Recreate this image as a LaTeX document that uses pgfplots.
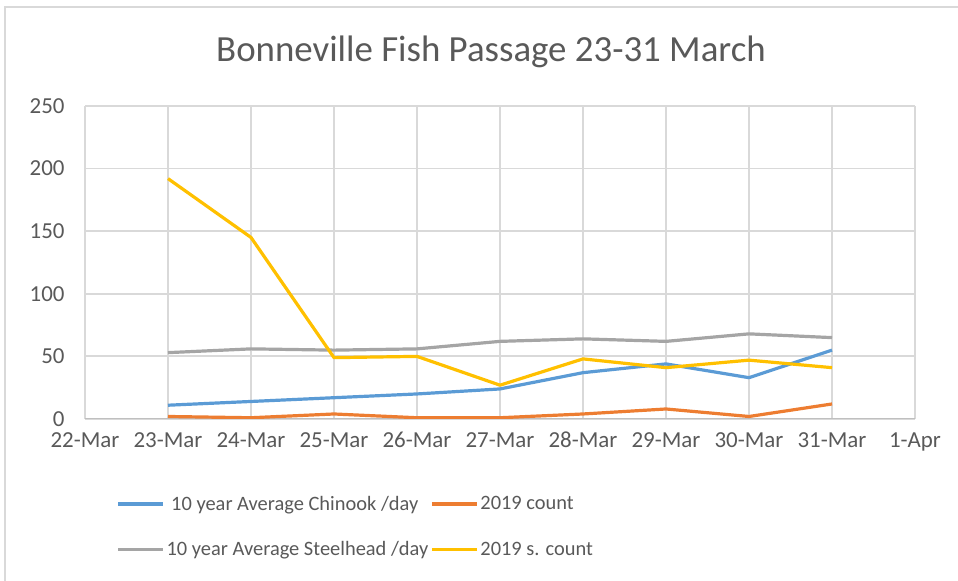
\documentclass[border=0pt]{standalone}
\usepackage{fontspec}
\setmainfont{Carlito}
\usepackage{pgfplots}
\pgfplotsset{compat=1.18}
\definecolor{cblue}{HTML}{5B9BD5}
\definecolor{corange}{HTML}{ED7D31}
\definecolor{cgray}{HTML}{A5A5A5}
\definecolor{cyellow}{HTML}{FFC000}
\definecolor{gridc}{HTML}{D9D9D9}
\definecolor{axc}{HTML}{BFBFBF}
\definecolor{txt}{HTML}{595959}
\begin{document}
\begin{tikzpicture}[x=1bp,y=1bp]
\path[use as bounding box] (0,0) rectangle (958,581);
\draw[color=gridc, line width=1.5bp] (5,0) -- (5,574) -- (958,574);
\node[text=txt, font=\fontsize{37}{44}\selectfont] at (491,529) {Bonneville Fish Passage 23-31 March};
\begin{axis}[
  at={(85bp,162bp)}, anchor=south west,
  scale only axis, width=830bp, height=313bp,
  xmin=0, xmax=10, ymin=0, ymax=250,
  xtick={0,...,10},
  xticklabels={22-Mar,23-Mar,24-Mar,25-Mar,26-Mar,27-Mar,28-Mar,29-Mar,30-Mar,31-Mar,1-Apr},
  ytick={0,50,...,250},
  grid=major,
  grid style={line width=1.8bp, color=gridc},
  axis line style={draw=none},
  major tick length=0pt,
  tick style={draw=none},
  /pgf/number format/assume math mode=true,
  ticklabel style={font=\fontsize{23}{27}\selectfont, text=txt},
  xticklabel style={anchor=base, yshift=-29bp},
  yticklabel style={xshift=-17bp},
  legend columns=2,
  legend cell align=left,
  legend style={at={(0.034,-0.233)}, anchor=north west, draw=none, fill=none,
    font=\fontsize{20.5}{24}\selectfont, text=txt, row sep=26bp,
    /tikz/every even column/.append style={column sep=0bp}},
  legend image code/.code={\draw[#1] (0bp,0bp) -- (45bp,0bp);},
  every axis plot/.append style={line width=3.2bp, no markers, line join=round},
]
\draw[axc, line width=2.2bp] (rel axis cs:0,0) -- (rel axis cs:1,0);
\addplot[cblue] coordinates {(1,11) (2,14) (3,17) (4,20) (5,24) (6,37) (7,44) (8,33) (9,55)};
\addlegendentry{\ 10 year Average Chinook /day}
\addplot[corange] coordinates {(1,2) (2,1) (3,4) (4,1) (5,1) (6,4) (7,8) (8,2) (9,12)};
\addlegendentry{2019 count}
\addplot[cgray] coordinates {(1,53) (2,56) (3,55) (4,56) (5,62) (6,64) (7,62) (8,68) (9,65)};
\addlegendentry{10 year Average Steelhead /day}
\addplot[cyellow] coordinates {(1,192) (2,145) (3,49) (4,50) (5,27) (6,48) (7,41) (8,47) (9,41)};
\addlegendentry{2019 s. count}
\end{axis}
\end{tikzpicture}
\end{document}
